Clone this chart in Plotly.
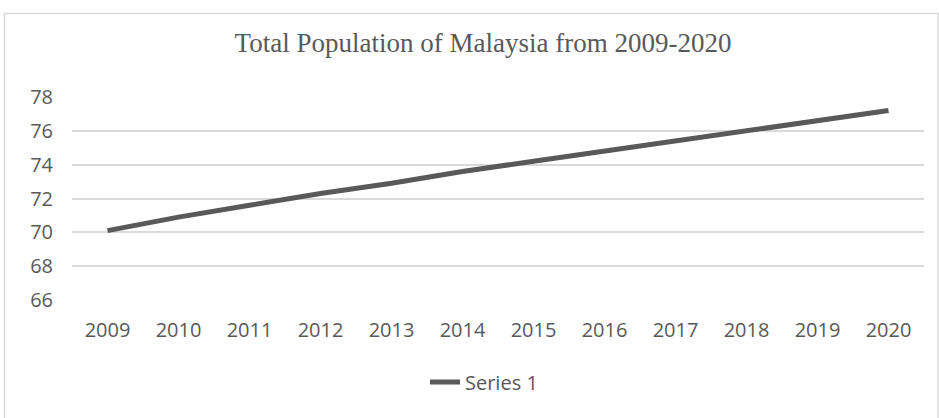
import plotly.graph_objects as go

years = ["2009", "2010", "2011", "2012", "2013", "2014", "2015", "2016", "2017", "2018", "2019", "2020"]
series1 = [70.1, 70.9, 71.6, 72.3, 72.9, 73.6, 74.2, 74.8, 75.4, 76.0, 76.6, 77.2]
y_ticks = [66, 68, 70, 72, 74, 76, 78]

W, H = 939, 418
L, R, T, B = 72, 15, 97, 118
pw, ph = W - L - R, H - T - B

def px_x(p):
    return (p - L) / pw

def px_y(p):
    return (H - B - p) / ph

fig = go.Figure()
fig.add_trace(go.Scatter(
    x=years, y=series1, mode="lines", name="Series 1",
    line=dict(color="#595959", width=5),
))

tick_font = dict(family="Open Sans, Liberation Sans, sans-serif", size=20, color="#595959")

fig.update_layout(
    width=W, height=H,
    margin=dict(l=L, r=R, t=T, b=B),
    paper_bgcolor="white", plot_bgcolor="white",
    title=dict(
        text="Total Population of Malaysia from 2009-2020",
        font=dict(family="Liberation Serif, Times New Roman, serif", size=27, color="#595959"),
        x=px_x(483), xref="paper", xanchor="center",
        y=1 - 43 / H, yref="container", yanchor="middle",
    ),
    xaxis=dict(
        type="category", range=[-0.5, len(years) - 0.5],
        showgrid=False, zeroline=False, showline=False,
        ticks="outside", ticklen=12, tickcolor="rgba(0,0,0,0)",
        tickfont=tick_font,
    ),
    yaxis=dict(
        range=[66, 78], tickvals=y_ticks, showgrid=True, gridcolor="#d9d9d9", gridwidth=1.5,
        zeroline=False, showline=False,
        ticks="outside", ticklen=14, tickcolor="rgba(0,0,0,0)",
        tickfont=tick_font,
    ),
    showlegend=True,
    legend=dict(
        orientation="h", x=px_x(484), xanchor="center",
        y=px_y(382), yanchor="middle",
        font=tick_font, bgcolor="rgba(0,0,0,0)",
    ),
    shapes=[dict(
        type="rect", xref="paper", yref="paper",
        x0=px_x(4.5), x1=px_x(938), y0=px_y(420), y1=px_y(13.5),
        line=dict(color="#d9d9d9", width=1.5), fillcolor="rgba(0,0,0,0)", layer="below",
    )],
)

fig.write_html(
    "out.html",
    config={"displayModeBar": False},
    post_script="document.body.style.margin='0';document.body.style.padding='0';",
)
